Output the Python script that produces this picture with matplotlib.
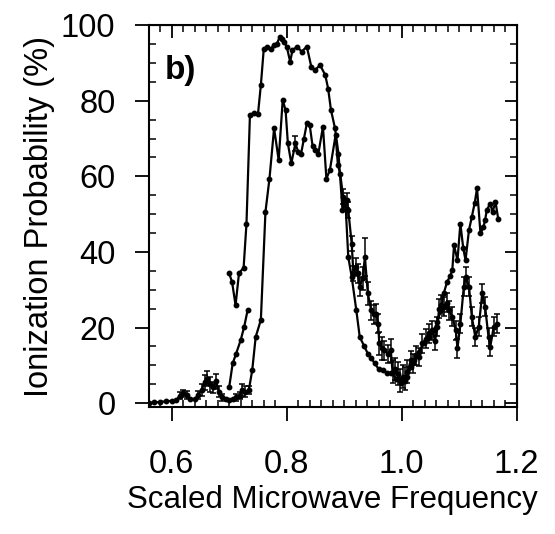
import numpy as np
import matplotlib
matplotlib.use("Agg")
import matplotlib.pyplot as plt
from matplotlib.ticker import MultipleLocator

plt.rcParams['font.family'] = ['Liberation Sans', 'DejaVu Sans']

# upper curve (no error bars)
a_x = [0.700, 0.705, 0.711, 0.717, 0.725, 0.730, 0.736, 0.743, 0.750, 0.755,
       0.760, 0.766, 0.772, 0.777, 0.783, 0.788, 0.792, 0.795, 0.800, 0.806,
       0.810, 0.818, 0.826, 0.835, 0.843, 0.849, 0.858, 0.867, 0.872, 0.877,
       0.884, 0.890, 0.897, 0.902, 0.907, 0.913, 0.921, 0.927, 0.935, 0.941,
       0.947, 0.953, 0.960, 0.967, 0.975, 0.982, 0.990, 0.999, 1.005, 1.010,
       1.016, 1.022, 1.030, 1.039, 1.047, 1.056, 1.062, 1.068, 1.073, 1.079,
       1.084, 1.088, 1.091, 1.097, 1.102, 1.107, 1.111, 1.117, 1.122, 1.127,
       1.131, 1.137, 1.142, 1.145, 1.148, 1.154, 1.158, 1.163, 1.168]
a_y = [34.3, 32.0, 25.9, 34.4, 35.8, 47.5, 76.2, 76.8, 76.5, 84.1,
       93.6, 94.1, 93.6, 94.7, 95.1, 96.9, 96.3, 95.6, 94.3, 90.3,
       93.4, 94.3, 93.0, 94.3, 88.8, 88.1, 89.4, 86.8, 83.2, 77.5,
       72.7, 66.0, 51.1, 53.5, 38.7, 33.4, 24.6, 17.5, 15.0, 13.1,
       11.9, 10.5, 9.0, 8.7, 8.0, 7.9, 6.5, 5.2, 5.8, 7.0,
       9.5, 11.4, 13.5, 15.8, 17.5, 19.3, 21.5, 24.6, 29.0, 32.1,
       33.5, 35.2, 41.8, 37.8, 47.5, 41.0, 37.8, 45.8, 49.3, 53.0,
       56.8, 44.9, 46.5, 48.4, 51.1, 52.8, 50.5, 53.3, 48.6]

# short rising segment near onset
c_x = [0.700, 0.706, 0.712, 0.720, 0.726, 0.732]
c_y = [4.3, 10.5, 13.1, 16.7, 20.2, 24.6]

# lower curve with error bars
b_x = [0.560, 0.570, 0.580, 0.590, 0.600, 0.608, 0.614, 0.620, 0.626, 0.632,
       0.640, 0.646, 0.652, 0.657, 0.662, 0.667, 0.672, 0.677, 0.682, 0.688,
       0.694, 0.700, 0.706, 0.712, 0.718, 0.723, 0.728, 0.734, 0.740, 0.746,
       0.755, 0.763, 0.770, 0.778, 0.786, 0.793, 0.798, 0.802, 0.808, 0.815,
       0.820, 0.825, 0.830, 0.835, 0.840, 0.845, 0.849, 0.855, 0.863, 0.869,
       0.875, 0.885, 0.889, 0.893, 0.898, 0.904, 0.907, 0.913, 0.916, 0.920,
       0.924, 0.927, 0.932, 0.936, 0.941, 0.947, 0.952, 0.956, 0.959, 0.961,
       0.966, 0.970, 0.976, 0.981, 0.984, 0.988, 0.993, 0.997, 1.002, 1.006,
       1.010, 1.016, 1.020, 1.025, 1.030, 1.036, 1.042, 1.047, 1.053, 1.058,
       1.062, 1.065, 1.069, 1.073, 1.078, 1.082, 1.088, 1.094, 1.097, 1.102,
       1.108, 1.111, 1.117, 1.122, 1.128, 1.134, 1.140, 1.145, 1.151, 1.154,
       1.160, 1.165]
b_y = [0.0, 0.2, 0.3, 0.5, 0.6, 0.8, 2.0, 2.6, 2.2, 1.2,
       1.0, 2.2, 3.5, 5.5, 6.5, 5.0, 4.2, 5.8, 3.0, 1.5,
       1.0, 0.8, 1.2, 1.5, 2.0, 3.5, 3.0, 3.4, 8.7, 17.5,
       22.0, 50.6, 59.4, 72.7, 64.3, 80.2, 77.5, 68.7, 63.4, 68.7,
       66.5, 66.0, 70.0, 74.0, 73.5, 68.0, 66.9, 66.0, 73.1, 59.4,
       61.6, 70.9, 63.0, 60.7, 54.6, 53.7, 51.1, 42.2, 34.3, 36.0,
       34.3, 30.8, 33.0, 38.7, 29.0, 24.6, 23.5, 23.7, 21.0, 15.8,
       14.5, 14.0, 13.0, 14.0, 8.3, 9.0, 7.8, 6.0, 7.0, 6.5,
       8.3, 11.4, 10.5, 12.7, 12.2, 15.8, 17.0, 18.5, 19.3, 16.5,
       20.2, 25.0, 26.0, 25.5, 26.5, 24.6, 22.8, 19.3, 14.5, 21.0,
       30.8, 33.4, 30.8, 22.8, 17.5, 20.2, 29.0, 25.5, 17.5, 14.9,
       20.2, 21.0]
b_err = [0.0, 0.0, 0.0, 0.0, 0.0, 0.0, 1.0, 1.0, 1.0, 0.0,
         0.0, 1.0, 1.5, 2.0, 2.0, 2.0, 1.5, 2.0, 1.5, 1.0,
         0.0, 0.0, 0.0, 1.0, 1.0, 1.5, 1.5, 1.0, 0.0, 0.0,
         0.0, 0.0, 0.0, 0.0, 0.0, 0.0, 0.0, 0.0, 0.0, 2.0,
         0.0, 0.0, 0.0, 0.0, 0.0, 0.0, 0.0, 0.0, 0.0, 0.0,
         0.0, 0.0, 0.0, 0.0, 2.0, 2.0, 2.0, 2.0, 2.0, 2.5,
         2.5, 2.5, 3.0, 5.0, 3.0, 2.5, 2.5, 2.5, 2.5, 3.0,
         3.0, 2.5, 2.5, 3.0, 3.0, 3.0, 3.0, 3.0, 3.0, 3.0,
         3.0, 2.5, 2.5, 2.5, 2.5, 2.5, 2.5, 2.5, 2.5, 2.5,
         2.5, 2.5, 2.5, 2.5, 2.5, 2.5, 2.5, 2.5, 2.5, 2.5,
         2.5, 2.5, 2.5, 2.5, 2.5, 2.5, 2.5, 2.5, 2.5, 2.5,
         2.5, 2.5]

fig = plt.figure(figsize=(5.55, 5.34), dpi=100)
ax = fig.add_axes([0.268, 0.238, 0.663, 0.715])

line_kw = dict(color='black', lw=1.6, marker='o', ms=3.2)
ax.plot(a_x, a_y, **line_kw)
ax.plot(c_x, c_y, **line_kw)
ax.plot(b_x, b_y, **line_kw)
bx = np.array(b_x)
by = np.array(b_y)
be = np.array(b_err)
has_err = be > 0
ax.errorbar(bx[has_err], by[has_err], yerr=be[has_err], fmt='none', ecolor='black',
            capsize=2.5, elinewidth=1.1, capthick=1.1)

ax.set_xlim(0.56, 1.2)
ax.set_ylim(-1, 100)
ax.xaxis.set_major_locator(MultipleLocator(0.2))
ax.xaxis.set_minor_locator(MultipleLocator(0.02))
ax.yaxis.set_major_locator(MultipleLocator(20))
ax.yaxis.set_minor_locator(MultipleLocator(5))
ax.set_xticks([0.6, 0.8, 1.0, 1.2])
ax.set_xticklabels(['0.6', '0.8', '1.0', '1.2'])

ax.tick_params(which='major', direction='out', length=10, width=1.3, labelsize=23.5)
ax.tick_params(axis='x', which='major', pad=20)
ax.tick_params(axis='y', which='major', pad=14)
ax.tick_params(which='minor', direction='in', length=5, width=1.1)

# ticks on top and right pointing inward
top = ax.secondary_xaxis('top')
top.xaxis.set_major_locator(MultipleLocator(0.2))
top.xaxis.set_minor_locator(MultipleLocator(0.02))
top.tick_params(which='major', direction='in', length=9, width=1.3, labeltop=False)
top.tick_params(which='minor', direction='in', length=5, width=1.1)
right = ax.secondary_yaxis('right')
right.yaxis.set_major_locator(MultipleLocator(20))
right.yaxis.set_minor_locator(MultipleLocator(5))
right.tick_params(which='major', direction='in', length=9, width=1.3, labelright=False)
right.tick_params(which='minor', direction='in', length=5, width=1.1)

for s in ax.spines.values():
    s.set_linewidth(1.5)

ax.set_xlabel('Scaled Microwave Frequency', fontsize=22.5, labelpad=4)
ax.set_ylabel('Ionization Probability (%)', fontsize=23.5, labelpad=4)
ax.text(0.588, 88, 'b)', fontsize=24, fontweight='bold', va='center', ha='left')

fig.savefig('out.png', dpi=100)
